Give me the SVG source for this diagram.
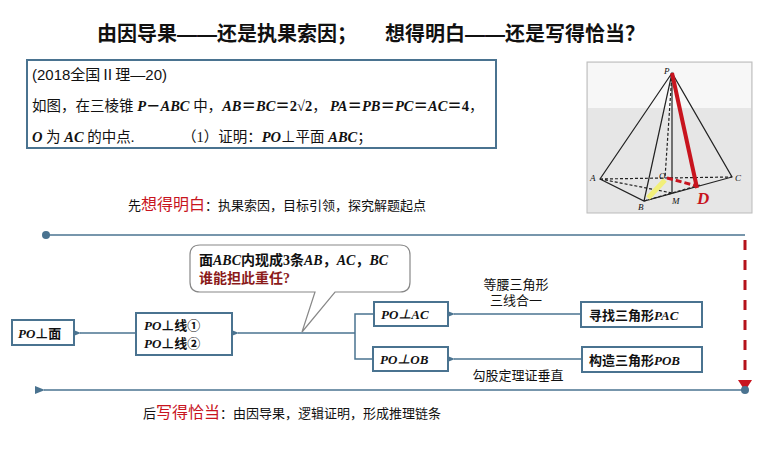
<svg xmlns="http://www.w3.org/2000/svg" width="767" height="454" viewBox="0 0 767 454">
<style>
text{font-family:"Liberation Serif","Noto Sans CJK SC",serif;fill:#111}
.s{font-family:"Liberation Sans","Noto Sans CJK SC",sans-serif}
.b{font-weight:bold}
.i{font-style:italic;font-weight:bold}
.box{fill:#fff;stroke:#4a7390;stroke-width:2}
.ln{stroke:#4a7390;stroke-width:1.5;fill:none}
</style>
<defs>
<marker id="a" viewBox="0 0 10 10" refX="1" refY="5" markerWidth="7" markerHeight="7" orient="auto"><path d="M10,1 L0,5 L10,9 z" fill="#4a7390"/></marker>
</defs>
<rect width="767" height="454" fill="#fff"/>
<text class="s b" x="97" y="41" font-size="20">由因导果——还是执果索因；</text>
<text class="s b" x="385" y="41" font-size="20">想得明白——还是写得恰当？</text>
<g id="problem">
<rect x="27" y="60" width="469" height="88" fill="#fff" stroke="#4a7390" stroke-width="2"/>
<text class="s" x="32" y="80" font-size="15">(2018全国Ⅱ理—20)</text>
<text x="32" y="111" font-size="14.5">如图，在三棱锥 <tspan class="i">P</tspan><tspan class="b">－</tspan><tspan class="i">ABC</tspan> 中，<tspan class="i">AB</tspan><tspan class="b">＝</tspan><tspan class="i">BC</tspan><tspan class="b">＝2√2</tspan>，<tspan x="330" class="i">PA</tspan><tspan class="b">＝</tspan><tspan class="i">PB</tspan><tspan class="b">＝</tspan><tspan class="i">PC</tspan><tspan class="b">＝</tspan><tspan class="i">AC</tspan><tspan class="b">＝4</tspan>，</text>
<text x="32" y="142" font-size="14.5"><tspan class="i">O</tspan> 为 <tspan class="i">AC</tspan> 的中点.<tspan x="182">（1）证明：</tspan><tspan class="i">PO</tspan>⊥平面 <tspan class="i">ABC</tspan>；</text>
</g>
<g id="figure">
<rect x="587" y="62" width="165" height="151" fill="#e6e6e6" stroke="#bbb"/>
<rect x="588" y="63" width="163" height="45" fill="#f7f7f7"/>
<g stroke="#222" stroke-width="1.2" fill="none">
<path d="M672,73 L600,179 L644,201 L732,177 Z M672,73 L644,201 M672,73 L672,193"/>
<path d="M600,179 L732,177 M672,73 L665,178 M644,201 L700,185 M600,179 L672,193" stroke-dasharray="3,2"/>
</g>
<path d="M648,198 L665,180" stroke="#f2ef7a" stroke-width="5"/>
<path d="M672,73 L697,188" stroke="#c8141e" stroke-width="4"/>
<path d="M667,178 L697,186" stroke="#c8141e" stroke-width="3" stroke-dasharray="6,3"/>
<g class="s" font-size="9" font-style="italic">
<text x="664" y="74">P</text><text x="590" y="181">A</text><text x="735" y="181">C</text><text x="638" y="210">B</text><text x="659" y="179">O</text><text x="672" y="204">M</text>
</g>
<text x="697" y="204" font-size="17" class="i" style="fill:#c8141e">D</text>
</g>
<text class="s" x="128" y="210" font-size="13">先<tspan font-size="16" style="fill:#c8141e">想得明白</tspan>：执果索因，目标引领，探究解题起点</text>
<text class="s" x="143" y="418" font-size="13">后<tspan font-size="16" style="fill:#c8141e">写得恰当</tspan>：由因导果，逻辑证明，形成推理链条</text>
<g id="connectors">
<path class="ln" d="M46,235 L745,235"/>
<circle cx="46" cy="235" r="4" fill="#4a7390"/>
<path d="M745,240 L745,378" stroke="#b5121b" stroke-width="3" stroke-dasharray="10,10"/>
<path d="M738,380 L752,380 L745,391 Z" fill="#c8141e"/>
<path class="ln" d="M745,390 L44,390" marker-end="url(#a)"/>
<circle cx="745" cy="390" r="4" fill="#4a7390"/>
<path class="ln" d="M136,333 L80,333" marker-end="url(#a)"/>
<path class="ln" d="M355,333 L238,333" marker-end="url(#a)"/>
<path class="ln" d="M374,314 L355,314 L355,359 L373,359"/>
<path class="ln" d="M581,314 L454,314" marker-end="url(#a)"/>
<path class="ln" d="M582,359 L454,359" marker-end="url(#a)"/>
</g>
<g id="callout">
<path d="M200,245 L400,245 Q410,245 410,255 L410,282 Q410,292 400,292 L335,292 L302,332 L315,292 L200,292 Q190,292 190,282 L190,255 Q190,245 200,245 Z" fill="#fff" stroke="#888" stroke-width="1.2"/>
<text x="199" y="265" font-size="14" class="b">面<tspan class="i">ABC</tspan>内现成3条<tspan class="i">AB</tspan>，<tspan class="i">AC</tspan>，<tspan class="i">BC</tspan></text>
<text x="199" y="283" font-size="14" class="b" style="fill:#8b1a1a">谁能担此重任?</text>
</g>
<g id="n1"><rect class="box" x="12" y="320" width="62" height="25"/><text x="18" y="338" font-size="13" class="b"><tspan class="i">PO</tspan>⊥面</text></g>
<g id="n2"><rect class="box" x="136" y="313" width="96" height="42"/><text x="144" y="330" font-size="13" class="b"><tspan class="i">PO</tspan>⊥线①</text><text x="144" y="348" font-size="13" class="b"><tspan class="i">PO</tspan>⊥线②</text></g>
<g id="n3"><rect class="box" x="374" y="302" width="74" height="24"/><text x="381" y="319" font-size="13" class="i">PO⊥AC</text></g>
<g id="n4"><rect class="box" x="373" y="347" width="75" height="24"/><text x="380" y="364" font-size="13" class="i">PO⊥OB</text></g>
<g id="n5"><rect class="box" x="581" y="302" width="121" height="25"/><text x="589" y="320" font-size="13" class="b">寻找三角形<tspan class="i">PAC</tspan></text></g>
<g id="n6"><rect class="box" x="582" y="347" width="120" height="25"/><text x="589" y="365" font-size="13" class="b">构造三角形<tspan class="i">POB</tspan></text></g>
<g class="s" font-size="13">
<text x="516" y="289" text-anchor="middle">等腰三角形</text>
<text x="516" y="305" text-anchor="middle">三线合一</text>
<text x="518" y="380" text-anchor="middle">勾股定理证垂直</text>
</g>
</svg>
